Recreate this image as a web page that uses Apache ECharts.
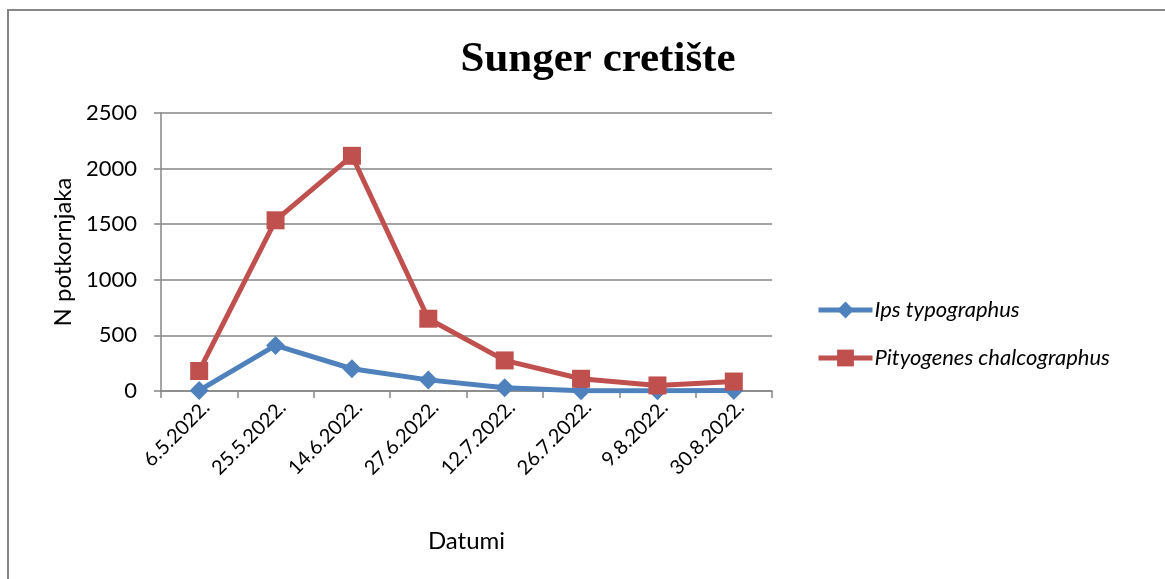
<!DOCTYPE html>
<html>
<head>
<meta charset="utf-8">
<script src="https://cdn.jsdelivr.net/npm/echarts@6/dist/echarts.min.js"></script>
<style>
  html, body { margin: 0; padding: 0; background: #fff; }
  #chart { width: 1165px; height: 579px; }
</style>
</head>
<body>
<div id="chart"></div>
<script>
var dates = ['6.5.2022.', '25.5.2022.', '14.6.2022.', '27.6.2022.', '12.7.2022.', '26.7.2022.', '9.8.2022.', '30.8.2022.'];
var ipsTypographus = [5, 410, 200, 100, 30, 3, 3, 5];
var pityogenesChalcographus = [180, 1535, 2115, 650, 275, 110, 50, 85];
var yTicks = [0, 500, 1000, 1500, 2000, 2500];

var chart = echarts.init(document.getElementById('chart'), null, { renderer: 'canvas' });
var sans = 'Lato';
var grey = '#868686';

var option = {
  animation: false,
  backgroundColor: '#fff',
  title: {
    text: 'Sunger cretište',
    left: 593,
    top: 33,
    textAlign: 'center',
    textStyle: { fontFamily: 'Liberation Serif', fontWeight: 'bold', fontSize: 43, color: '#000' }
  },
  graphic: [{
    type: 'rect',
    shape: { x: 8, y: 10, width: 2000, height: 2000 },
    style: { fill: 'none', stroke: grey, lineWidth: 2 }
  }],
  legend: {
    orient: 'vertical',
    left: 811,
    top: 294,
    itemWidth: 54,
    itemHeight: 21,
    itemGap: 26,
    lineStyle: { width: 5 },
    textStyle: { fontFamily: sans, fontStyle: 'italic', fontSize: 22, color: '#000', padding: [0, 0, 0, -3] },
    data: ['Ips typographus', 'Pityogenes chalcographus']
  },
  grid: { left: 161, right: 393, top: 113, bottom: 188 },
  xAxis: {
    type: 'category',
    data: dates,
    name: 'Datumi',
    nameLocation: 'middle',
    nameGap: 138,
    nameTextStyle: { fontFamily: sans, fontSize: 24, color: '#000' },
    axisLine: { lineStyle: { color: grey, width: 1.5 } },
    axisTick: { show: true, length: 7, lineStyle: { color: grey, width: 1.5 } },
    axisLabel: { rotate: 45, margin: 6, verticalAlign: 'top', fontFamily: sans, fontSize: 20, color: '#000', interval: 0 },
    splitLine: { show: false }
  },
  yAxis: {
    type: 'value',
    min: 0,
    max: yTicks[yTicks.length - 1],
    interval: 500,
    name: 'N potkornjaka',
    nameLocation: 'middle',
    nameGap: 86,
    nameTextStyle: { fontFamily: sans, fontSize: 24, color: '#000' },
    axisLine: { show: true, lineStyle: { color: grey, width: 1.5 } },
    axisTick: { show: true, length: 7, lineStyle: { color: grey, width: 1.5 } },
    axisLabel: { margin: 24, fontFamily: sans, fontSize: 22, color: '#000', formatter: function (v) { return String(v); } },
    splitLine: { lineStyle: { color: grey, width: 1.5 } }
  },
  series: [{
    name: 'Ips typographus',
    type: 'line',
    data: ipsTypographus,
    symbol: 'diamond',
    symbolSize: 19,
    color: '#4F81BD',
    lineStyle: { width: 5, color: '#4F81BD' },
    itemStyle: { color: '#4F81BD' }
  }, {
    name: 'Pityogenes chalcographus',
    type: 'line',
    data: pityogenesChalcographus,
    symbol: 'rect',
    symbolSize: 18,
    color: '#C0504D',
    lineStyle: { width: 5, color: '#C0504D' },
    itemStyle: { color: '#C0504D' }
  }]
};

chart.setOption(option);
</script>
</body>
</html>
